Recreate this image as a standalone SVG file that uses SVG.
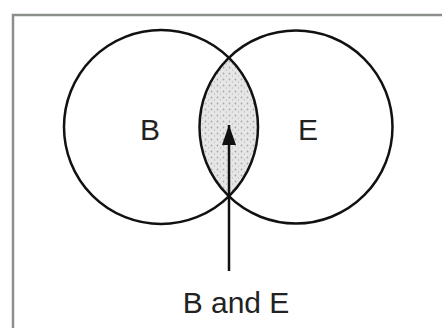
<svg xmlns="http://www.w3.org/2000/svg" width="442" height="328" viewBox="0 0 442 328">
<style>
.c{fill:none;stroke:#111;stroke-width:2.5}
.t{font-family:"Liberation Sans",Arial,sans-serif;font-size:30px;fill:#222;text-anchor:middle}
</style>
<defs>
<pattern id="dots" width="6" height="6" patternUnits="userSpaceOnUse">
<rect width="6" height="6" fill="#e6e6e6"/>
<circle cx="1.5" cy="1.5" r="0.9" fill="#aaa"/>
<circle cx="4.5" cy="4" r="0.7" fill="#bbb"/>
</pattern>
<marker id="ah" markerWidth="20" markerHeight="14" refX="20" refY="7" orient="auto" markerUnits="userSpaceOnUse" viewBox="0 0 20 14">
<path d="M0,0 L20,7 L0,14 Z" fill="#111"/>
</marker>
</defs>
<rect width="442" height="328" fill="#fff"/>
<path d="M13,328 V15 H442" fill="none" stroke="#8a8f8a" stroke-width="2.5"/>
<g id="lens"><path d="M228.5,57.3 A97,97 0 0 1 228.5,196.7 A96.5,96.5 0 0 1 228.5,57.3 Z" fill="url(#dots)"/></g>
<g id="B"><circle class="c" cx="161" cy="127" r="97"/><text class="t" x="150" y="140">B</text></g>
<g id="E"><circle class="c" cx="296" cy="127" r="96.5"/><text class="t" x="308" y="140">E</text></g>
<g id="connectors"><line x1="229" y1="271" x2="229" y2="125" stroke="#111" stroke-width="2.5" marker-end="url(#ah)"/></g>
<g id="label"><text class="t" x="236" y="313">B and E</text></g>
</svg>
